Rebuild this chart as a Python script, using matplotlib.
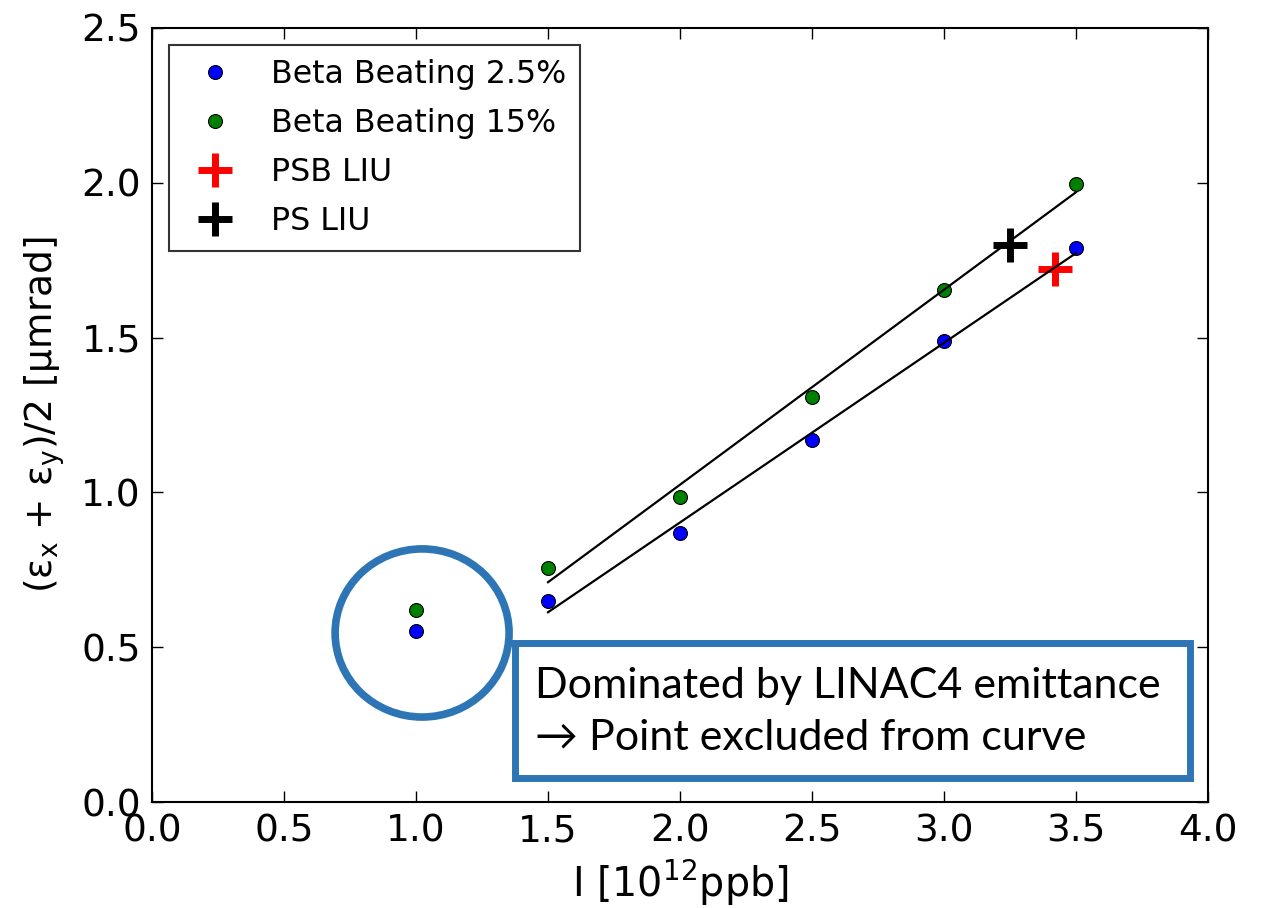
import matplotlib
matplotlib.use("Agg")
import matplotlib.pyplot as plt
import numpy as np
from matplotlib.patches import Ellipse, Rectangle

plt.rcParams["mathtext.default"] = "regular"
plt.rcParams["font.family"] = ["DejaVu Sans"]

# beam intensity [1e12 ppb]
intensity = np.array([1.0, 1.5, 2.0, 2.5, 3.0, 3.5])
# average emittance [um rad]
emit_bb_2p5 = np.array([0.552, 0.649, 0.869, 1.169, 1.489, 1.789])
emit_bb_15 = np.array([0.620, 0.756, 0.985, 1.308, 1.654, 1.996])

# LIU targets
psb_liu = (3.42, 1.72)
ps_liu = (3.25, 1.80)

NOTE = "Dominated by LINAC4 emittance\n\u2192 Point excluded from curve"
BOX_BLUE = "#2E75B6"

fig = plt.figure(figsize=(12.68, 9.08), dpi=100)
ax = fig.add_axes([0.1199, 0.1167, 0.8328, 0.8525])

ax.plot(intensity, emit_bb_2p5, "o", color="b", mec="k", mew=0.8, ms=10,
        label="Beta Beating 2.5%")
ax.plot(intensity, emit_bb_15, "o", color="g", mec="k", mew=0.8, ms=10,
        label="Beta Beating 15%")
ax.plot(*psb_liu, "+", color="r", ms=24, mew=5, label="PSB LIU")
ax.plot(*ps_liu, "+", color="k", ms=24, mew=5, label="PS LIU")

# linear fits, first point left out
fit_x = intensity[1:]
for emit in (emit_bb_2p5, emit_bb_15):
    p = np.polyfit(fit_x, emit[1:], 1)
    ax.plot(fit_x[[0, -1]], np.polyval(p, fit_x[[0, -1]]), "k-", lw=1.6)

ax.set_xlim(0, 4)
ax.set_ylim(0, 2.5)
ax.set_xticks(np.arange(0, 4.01, 0.5))
ax.set_yticks(np.arange(0, 2.51, 0.5))
ax.tick_params(direction="in", length=8, width=1, top=True, right=True,
               labelsize=27, pad=8)
for s in ax.spines.values():
    s.set_linewidth(1.5)

ax.set_xlabel("I [10$^{12}$ppb]", fontsize=28.5, labelpad=6)
ax.set_ylabel("(\u03b5$_x$ + \u03b5$_y$)/2 [\u03bcmrad]", fontsize=27, labelpad=10)

leg = ax.legend(loc="upper left", numpoints=1, fontsize=22.8, frameon=True,
                fancybox=False, borderaxespad=0.54, handletextpad=0.78,
                borderpad=0.44, labelspacing=0.57)
leg.get_frame().set_edgecolor("k")
leg.get_frame().set_linewidth(1.5)

# highlight the excluded low-intensity point
ax.add_patch(Ellipse((1.023, 0.546), 0.659, 0.543, fill=False,
                     ec=BOX_BLUE, lw=5.5, zorder=1))

ax.add_patch(Rectangle((1.375, 0.078), 2.557, 0.436, fill=True, fc="white",
                       ec=BOX_BLUE, lw=5, zorder=4))
ax.text(1.45, 0.29, NOTE, fontsize=31, family=["Lato", "DejaVu Sans"],
        va="center", ha="left", linespacing=1.45, zorder=5)

fig.savefig("out.png", dpi=100)
